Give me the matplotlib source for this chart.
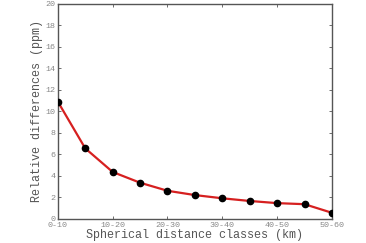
import numpy as np
import matplotlib
matplotlib.use('Agg')
import matplotlib.pyplot as plt

# values
classes = ['0-10', '10-20', '20-30', '30-40', '40-50', '50-60']
pos = [0, 1, 2, 3, 4, 5, 6, 7, 8, 9, 10]
rel_diff = [10.9, 6.55, 4.35, 3.35, 2.6, 2.2, 1.9, 1.65, 1.45, 1.35, 0.55]

plt.rcParams['font.family'] = ['Liberation Mono', 'DejaVu Sans Mono']

fig = plt.figure(figsize=(3.66, 2.43), dpi=100)
ax = fig.add_axes([0.158, 0.1, 0.749, 0.884])

ax.plot(pos, rel_diff, color='#d62020', linewidth=1.6, zorder=2)
ax.plot(pos, rel_diff, 'o', color='black', markersize=4.5, zorder=3)

ax.set_xlim(0, 10)
ax.set_ylim(0, 20)
ax.set_xticks(range(0, 11, 2))
ax.set_xticklabels(classes)
ax.set_yticks(range(0, 21, 2))

ax.tick_params(direction='in', top=True, right=True, labelsize=6,
               labelcolor='#888888', color='#555555', length=2.5, width=0.6, pad=1.5)
ax.tick_params(axis='x', pad=2.5)
for s in ax.spines.values():
    s.set_color('#555555')
    s.set_linewidth(1.0)

ax.set_xlabel('Spherical distance classes (km)', fontsize=8.5, color='#555555', labelpad=0)
ax.set_ylabel('Relative differences (ppm)', fontsize=8.5, color='#555555', labelpad=2)

fig.savefig('out.png', dpi=100)
